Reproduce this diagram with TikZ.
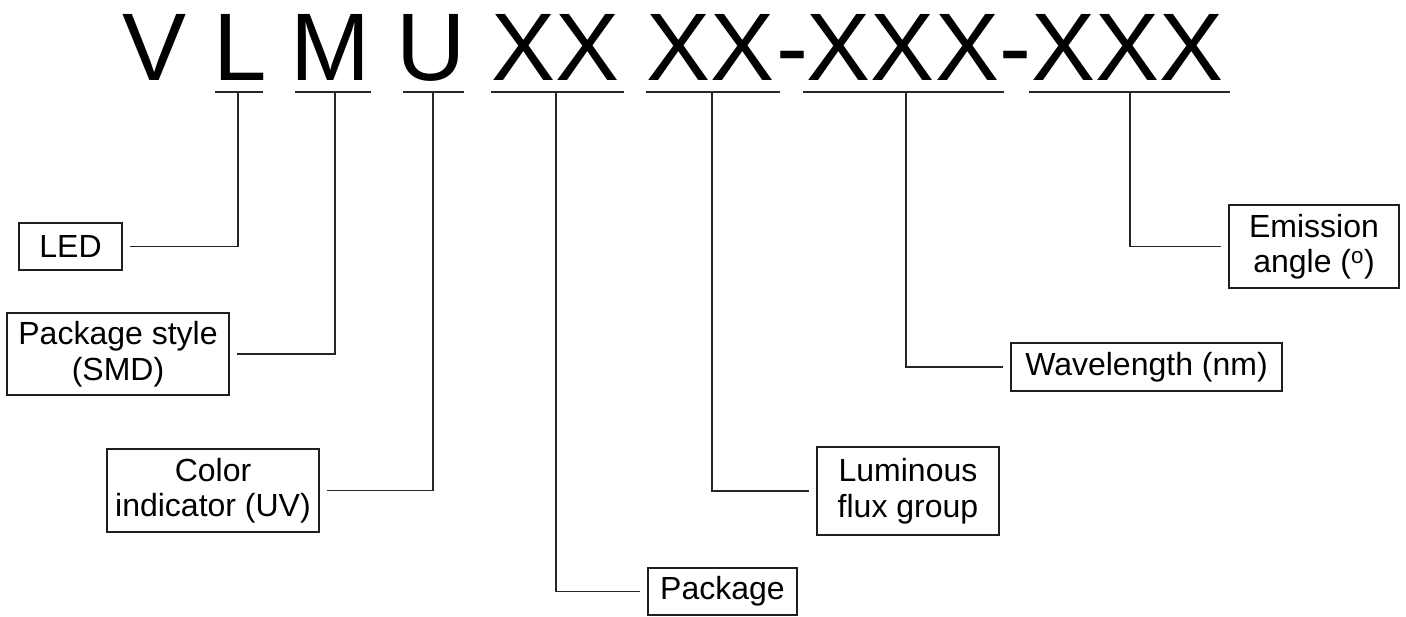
\documentclass[tikz,border=0pt]{standalone}
\usepackage{fontspec}
\setmainfont{Liberation Sans}
\begin{document}
\begin{tikzpicture}[x=1pt,y=-1pt,
  code/.style={inner sep=0pt, anchor=base, font=\fontsize{96}{96}\selectfont},
  field/.style={draw=black!88, line width=1.9pt, inner sep=0pt, align=center,
    font=\fontsize{32}{35.5}\selectfont},
  rule/.style={line width=1.9pt, draw=black!85},
  lead/.style={line width=1.9pt, draw=black!85, shorten >=7.5pt}]
\useasboundingbox (0,0) rectangle (1406,616);

% part number
\node[code] (cV)   at (154.5,80) {V};
\node[code] (cL)   at (240,80)   {L};
\node[code] (cM)   at (330,80)   {M};
\node[code] (cU)   at (431.5,80) {U};
\node[code] (cP)   at (555.5,80) {XX};
\node[code] (cF)   at (710.5,80) {XX};
\node[code] (cH1)  at (792,80)   {-};
\node[code] (cW)   at (903,80)   {XXX};
\node[code] (cH2)  at (1015.5,80){-};
\node[code] (cA)   at (1127.5,80){XXX};

% underlines below each field
\draw[rule] (215,92) -- (263,92);
\draw[rule] (295,92) -- (371,92);
\draw[rule] (403,92) -- (464,92);
\draw[rule] (491,92) -- (624,92);
\draw[rule] (646,92) -- (780,92);
\draw[rule] (803,92) -- (1004,92);
\draw[rule] (1029,92) -- (1230,92);

\coordinate (tL) at (238,92);
\coordinate (tM) at (335,92);
\coordinate (tU) at (433,92);
\coordinate (tP) at (556,92);
\coordinate (tF) at (712,92);
\coordinate (tW) at (906,92);
\coordinate (tA) at (1130,92);

% explanation boxes
\node[field, minimum width=103pt, minimum height=47pt] (led) at (70.5,246.5) {LED};
\node[field, minimum width=222pt, minimum height=82pt] (pst) at (118,354) {Package style\\(SMD)};
\node[field, minimum width=212pt, minimum height=83pt] (col) at (213,490.5) {Color\\indicator (UV)};
\node[field, minimum width=149pt, minimum height=47pt] (pkg) at (722.5,591.5) {Package};
\node[field, minimum width=182pt, minimum height=88pt] (lum) at (908,491) {Luminous\\flux group};
\node[field, minimum width=271pt, minimum height=48pt] (wav) at (1146.5,367) {Wavelength (nm)};
\node[field, minimum width=170pt, minimum height=83pt] (emi) at (1314,246.5) {Emission\\angle (\textsuperscript{o})};

% leader lines
\draw[lead] (tL) |- (led);
\draw[lead] (tM) |- (pst);
\draw[lead] (tU) |- (col);
\draw[lead] (tP) |- (pkg);
\draw[lead] (tF) |- (lum);
\draw[lead] (tW) |- (wav);
\draw[lead] (tA) |- (emi);
\end{tikzpicture}
\end{document}
